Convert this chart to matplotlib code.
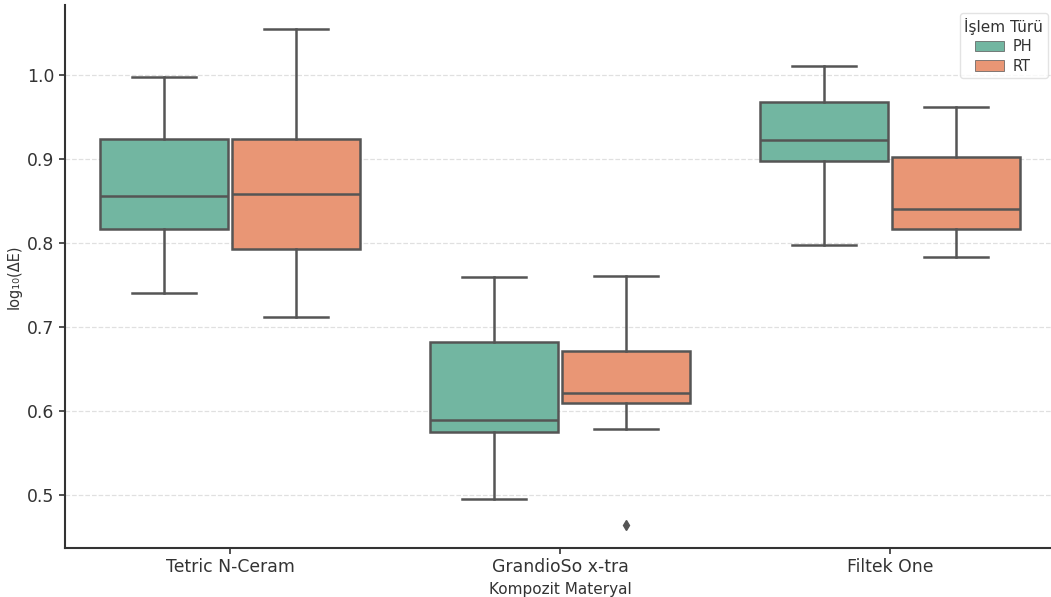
#!/usr/bin/env python3
import numpy as np
import seaborn as sns
from matplotlib import pyplot as plt

# Data (log10 dE box statistics)
Categories = ["Tetric N-Ceram", "GrandioSo x-tra", "Filtek One"]
Groups = ["PH", "RT"]

WhiskerLow = {'PH': [0.741, 0.495, 0.798], 'RT': [0.712, 0.579, 0.783]}
Q1 = {'PH': [0.816, 0.575, 0.898], 'RT': [0.793, 0.610, 0.817]}
Median = {'PH': [0.856, 0.589, 0.923], 'RT': [0.858, 0.622, 0.840]}
Q3 = {'PH': [0.924, 0.682, 0.968], 'RT': [0.924, 0.671, 0.902]}
WhiskerHigh = {'PH': [0.998, 0.760, 1.010], 'RT': [1.054, 0.761, 0.962]}
Outliers = {'PH': [[], [], []], 'RT': [[], [0.464], []]}


def main():
    Colors = [sns.desaturate(c, 0.75) for c in sns.color_palette('Set2', 2)]
    LineColor = '#555555'
    Width = 0.39
    Offsets = [-0.2, 0.2]

    fig = plt.figure(figsize=(10.51, 5.97), dpi=100)
    ax = fig.add_axes([0.0618, 0.082, 0.942, 0.9095])

    for g, Group in enumerate(Groups):
        Stats = []
        for i in range(len(Categories)):
            Stats.append({'whislo': WhiskerLow[Group][i], 'q1': Q1[Group][i], 'med': Median[Group][i],
                          'q3': Q3[Group][i], 'whishi': WhiskerHigh[Group][i], 'fliers': Outliers[Group][i]})
        Positions = np.arange(len(Categories)) + Offsets[g]
        ax.bxp(Stats, positions=Positions, widths=Width, patch_artist=True, manage_ticks=False,
               boxprops=dict(facecolor=Colors[g], edgecolor=LineColor, linewidth=1.8),
               medianprops=dict(color=LineColor, linewidth=1.8),
               whiskerprops=dict(color=LineColor, linewidth=1.8),
               capprops=dict(color=LineColor, linewidth=1.8),
               capwidths=Width / 2,
               flierprops=dict(marker='d', markerfacecolor=LineColor, markeredgecolor=LineColor, markersize=5),
               zorder=3)

    ax.set_xlim(-0.5, 2.5)
    ax.set_ylim(0.437, 1.083)
    ax.set_xticks(np.arange(len(Categories)), Categories)
    ax.set_yticks([0.5, 0.6, 0.7, 0.8, 0.9, 1.0])
    ax.yaxis.grid(True, linestyle='--', color='#e0e0e0', linewidth=0.9, zorder=0)
    ax.set_axisbelow(True)
    ax.tick_params(labelsize=12.4, colors='#333333', length=4, width=1.2)
    ax.set_xlabel('Kompozit Materyal', fontsize=11, color='#333333', labelpad=4)
    ax.set_ylabel('log₁₀(ΔE)', fontsize=10.5, color='#333333')

    for s in ['top', 'right']:
        ax.spines[s].set_visible(False)
    for s in ['left', 'bottom']:
        ax.spines[s].set_color('#333333')
        ax.spines[s].set_linewidth(1.5)

    Handles = [plt.Rectangle((0, 0), 1, 1, facecolor=Colors[g], edgecolor=LineColor, linewidth=0.5) for g in range(2)]
    Leg = ax.legend(Handles, Groups, title='İşlem Türü', loc='upper right', bbox_to_anchor=(1.0, 0.998),
                    fontsize=10.5, title_fontsize=11, frameon=True, edgecolor='#dddddd',
                    borderpad=0.3, labelspacing=0.3, handletextpad=0.6, labelcolor='#333333')
    Leg.get_title().set_color('#333333')

    fig.savefig('out.png', dpi=100)


if __name__ == '__main__':
    main()
